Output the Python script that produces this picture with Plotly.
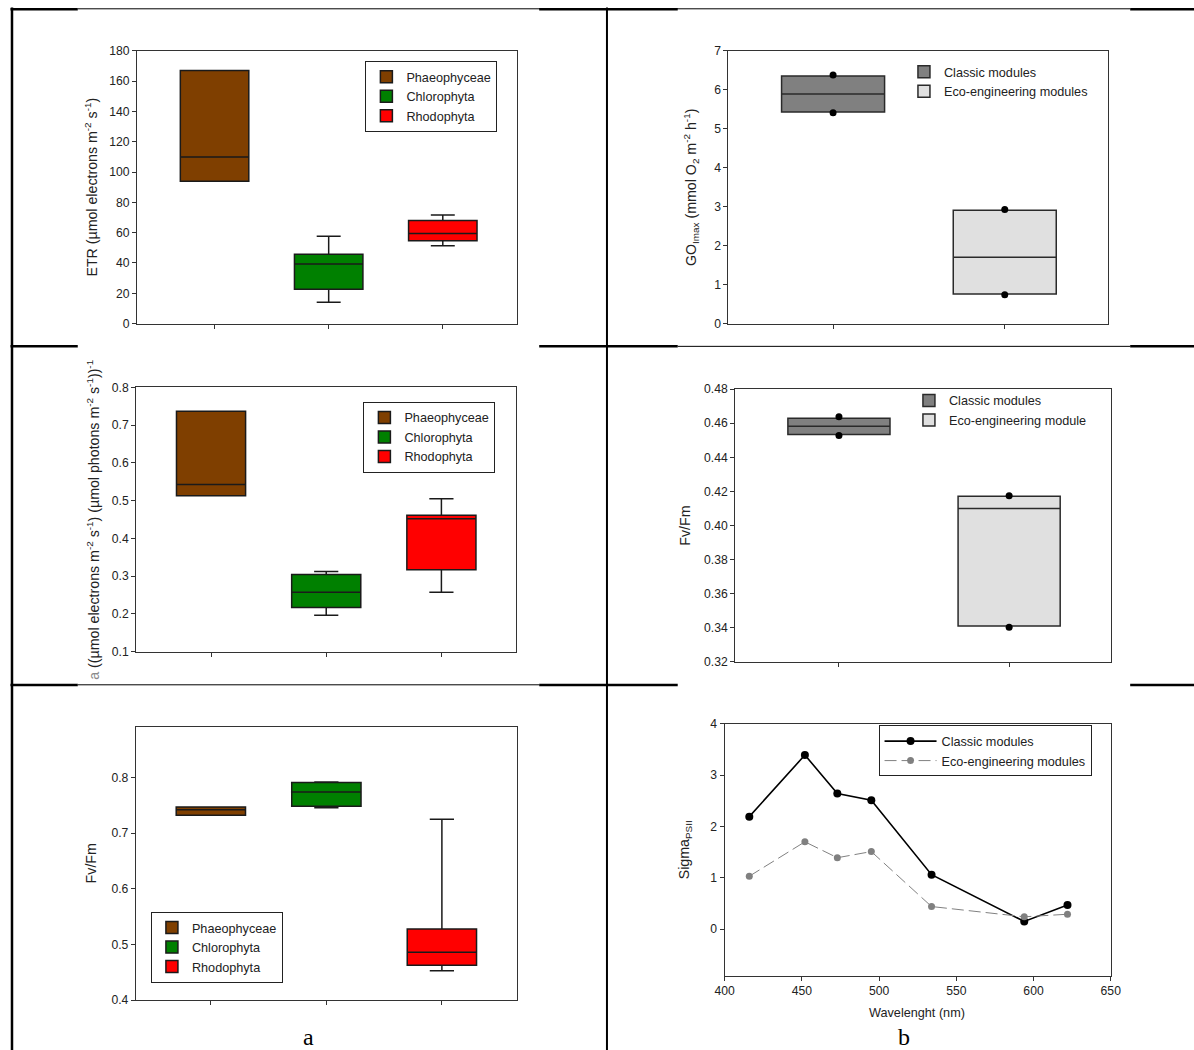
import plotly.graph_objects as go

W, H = 1194, 1050
# the returned picture shows the page inside an 8px frame, scaled by (W-16)/W;
# positions below are measured on the reference and mapped back to page pixels
PAD = 8
SX = (W - 2 * PAD) / W
SY = (H - 2 * PAD) / H
FS = 1 / SX

# ---------------- data ----------------
algae = ["Phaeophyceae", "Chlorophyta", "Rhodophyta"]
algae_colors = ["#7f3f00", "#008000", "#ff0000"]

etr_q1 = [94, 22.7, 54.6]
etr_med = [110, 39.4, 59.5]
etr_q3 = [167, 45.8, 68.0]
etr_lo = [94, 14.1, 51.3]
etr_hi = [167, 57.7, 71.6]

alpha_q1 = [0.513, 0.217, 0.317]
alpha_med = [0.543, 0.257, 0.452]
alpha_q3 = [0.737, 0.304, 0.461]
alpha_lo = [0.513, 0.196, 0.257]
alpha_hi = [0.737, 0.312, 0.505]

fvfm_alg_q1 = [0.732, 0.7485, 0.463]
fvfm_alg_med = [0.742, 0.774, 0.486]
fvfm_alg_q3 = [0.747, 0.791, 0.528]
fvfm_alg_lo = [0.732, 0.7455, 0.453]
fvfm_alg_hi = [0.747, 0.792, 0.725]

modules_go = ["Classic modules", "Eco-engineering modules"]
modules_fv = ["Classic modules", "Eco-engineering module"]
module_colors = ["#808080", "#e0e0e0"]

go_q1 = [5.43, 0.76]
go_med = [5.89, 1.70]
go_q3 = [6.35, 2.91]
go_p_low = [5.41, 0.74]
go_p_high = [6.38, 2.93]

fvm_q1 = [0.4533, 0.3411]
fvm_med = [0.4582, 0.4099]
fvm_q3 = [0.4629, 0.4171]
fvm_p_low = [0.4527, 0.3404]
fvm_p_high = [0.4637, 0.4175]

wavelength = [416, 452, 473, 495, 534, 594, 622]
sigma_classic = [2.19, 3.39, 2.64, 2.51, 1.06, 0.15, 0.47]
sigma_eco = [1.03, 1.70, 1.39, 1.51, 0.44, 0.24, 0.29]

# ---------------- helpers (reference pixel -> paper) ----------------
def px(x):
    return ((x - PAD) / SX) / W

def py(y):
    return 1 - ((y - PAD) / SY) / H

FONT = "Liberation Sans, Arial, sans-serif"
TXT = "#222"
AX = "#333"

fig = go.Figure()

def add_boxes(axn, names, colors, q1, med, q3, lo, hi, legend, line_color="#1a1a1a"):
    s = "" if axn == 1 else str(axn)
    for i, n in enumerate(names):
        fig.add_trace(go.Box(
            x=[i + 1], q1=[q1[i]], median=[med[i]], q3=[q3[i]],
            lowerfence=[lo[i]], upperfence=[hi[i]],
            name=n, fillcolor=colors[i],
            line=dict(color=line_color, width=1.5),
            width=0.6, whiskerwidth=0.35, boxpoints=False,
            xaxis="x" + s, yaxis="y" + s,
            legend=legend, showlegend=True, hoverinfo="skip",
        ))

add_boxes(1, algae, algae_colors, etr_q1, etr_med, etr_q3, etr_lo, etr_hi, "legend")
add_boxes(3, algae, algae_colors, alpha_q1, alpha_med, alpha_q3, alpha_lo, alpha_hi, "legend3")
add_boxes(5, algae, algae_colors, fvfm_alg_q1, fvfm_alg_med, fvfm_alg_q3, fvfm_alg_lo, fvfm_alg_hi, "legend5")

add_boxes(2, modules_go, module_colors, go_q1, go_med, go_q3, go_q1, go_q3, "legend2", line_color="#2a2a2a")
fig.add_trace(go.Scatter(x=[1, 2, 1, 2], y=go_p_high + go_p_low, mode="markers",
                         marker=dict(color="black", size=7), xaxis="x2", yaxis="y2",
                         showlegend=False, hoverinfo="skip"))

add_boxes(4, modules_fv, module_colors, fvm_q1, fvm_med, fvm_q3, fvm_q1, fvm_q3, "legend4", line_color="#2a2a2a")
fig.add_trace(go.Scatter(x=[1, 2, 1, 2], y=fvm_p_high + fvm_p_low, mode="markers",
                         marker=dict(color="black", size=7), xaxis="x4", yaxis="y4",
                         showlegend=False, hoverinfo="skip"))

fig.add_trace(go.Scatter(x=wavelength, y=sigma_classic, mode="lines+markers", name="Classic modules",
                         line=dict(color="black", width=1.6), marker=dict(color="black", size=8),
                         xaxis="x6", yaxis="y6", legend="legend6", hoverinfo="skip"))
fig.add_trace(go.Scatter(x=wavelength, y=sigma_eco, mode="lines+markers", name="Eco-engineering modules",
                         line=dict(color="#808080", width=1, dash="12px,5px"),
                         marker=dict(color="#808080", size=7),
                         xaxis="x6", yaxis="y6", legend="legend6", hoverinfo="skip"))

# ---------------- axes ----------------
panels = {
    1: dict(x=(135.4, 516.7), y=(51.7, 324.0)),
    2: dict(x=(728.8, 1109.5), y=(51.7, 324.0)),
    3: dict(x=(134.6, 516.0), y=(387.7, 651.3)),
    4: dict(x=(735.6, 1113.0), y=(389.3, 661.7)),
    5: dict(x=(134.2, 516.7), y=(727.0, 999.3)),
    6: dict(x=(725.0, 1112.5), y=(723.3, 975.0)),
}

common = dict(showgrid=False, zeroline=False, showline=True, linecolor=AX, linewidth=1,
              mirror=True, ticks="outside", ticklen=4, tickcolor=AX,
              tickfont=dict(family=FONT, size=12 * FS, color=TXT))

xr = {1: [0.32, 3.65], 2: [0.39, 2.6], 3: [0.35, 3.65], 4: [0.39, 2.6], 5: [0.35, 3.65], 6: [400, 650]}
yr = {1: [0, 180], 2: [0, 7], 3: [0.1, 0.8], 4: [0.32, 0.48], 5: [0.4, 0.89], 6: [-0.91, 4]}
ytv = {1: list(range(0, 181, 20)), 2: list(range(0, 8)),
       3: [0.1, 0.2, 0.3, 0.4, 0.5, 0.6, 0.7, 0.8],
       4: [0.32, 0.34, 0.36, 0.38, 0.40, 0.42, 0.44, 0.46, 0.48],
       5: [0.4, 0.5, 0.6, 0.7, 0.8], 6: [0, 1, 2, 3, 4]}
yfmt = {1: "d", 2: "d", 3: ".1f", 4: ".2f", 5: ".1f", 6: "d"}

layout_axes = {}
for n, p in panels.items():
    s = "" if n == 1 else str(n)
    xd = [px(p["x"][0]), px(p["x"][1])]
    yd = [py(p["y"][1]), py(p["y"][0])]
    xa = dict(common, domain=xd, range=xr[n], anchor="y" + s)
    if n == 6:
        xa.update(tickvals=[400, 450, 500, 550, 600, 650], tickformat="d")
    elif n in (2, 4):
        xa.update(tickvals=[1, 2], showticklabels=False)
    else:
        xa.update(tickvals=[1, 2, 3], showticklabels=False)
    ya = dict(common, domain=yd, range=yr[n], anchor="x" + s, tickvals=ytv[n], tickformat=yfmt[n])
    layout_axes["xaxis" + s] = xa
    layout_axes["yaxis" + s] = ya

fig.update_layout(**layout_axes)

# ---------------- legends ----------------
def leg(x, y, border=True, yanchor="top", itemwidth=30):
    return dict(x=px(x), y=py(y), xanchor="left", yanchor=yanchor,
                bgcolor="white" if border else "rgba(0,0,0,0)",
                bordercolor="#222", borderwidth=1 if border else 0,
                font=dict(family=FONT, size=12.5 * FS, color=TXT), tracegroupgap=0,
                itemwidth=itemwidth, itemclick=False, itemdoubleclick=False)

fig.update_layout(
    legend=leg(364.6, 62),
    legend2=leg(905, 58, border=False),
    legend3=leg(362.6, 402),
    legend4=leg(910, 386, border=False),
    legend5=leg(149.4, 982, yanchor="bottom"),
    legend6=leg(879.5, 725, itemwidth=52),
)

# ---------------- titles ----------------
def ytitle(text, x, y, size=14):
    fig.add_annotation(text=text, x=px(x), y=py(y), xref="paper", yref="paper",
                       textangle=-90, showarrow=False, xanchor="center", yanchor="middle",
                       font=dict(family=FONT, size=size * FS, color=TXT))

ytitle("ETR (µmol electrons m<sup>-2</sup> s<sup>-1</sup>)", 89.5, 188)
ytitle("GO<sub>Imax</sub> (mmol O<sub>2</sub> m<sup>-2</sup> h<sup>-1</sup>)", 692, 188)
ytitle('<span style="color:#8a8a8a">a</span> ((µmol electrons m<sup>-2</sup> s<sup>-1</sup>) '
       '(µmol photons m<sup>-2</sup> s<sup>-1</sup>))<sup>-1</sup>', 91, 520)
ytitle("Fv/Fm", 685, 526)
ytitle("Fv/Fm", 89, 863)
ytitle("Sigma<sub>PSII</sub>", 685, 849)
fig.add_annotation(text="Wavelenght (nm)", x=px(918), y=py(1012), xref="paper", yref="paper",
                   showarrow=False, xanchor="center", yanchor="middle",
                   font=dict(family=FONT, size=12.5 * FS, color=TXT))
for lab, x in (("a", 308), ("b", 905)):
    fig.add_annotation(text=lab, x=px(x), y=py(1036), xref="paper", yref="paper",
                       showarrow=False, xanchor="center", yanchor="middle",
                       font=dict(family="Liberation Serif, Times New Roman, serif", size=24, color="black"))

# ---------------- table lines ----------------
def hline(x0, x1, y, w):
    fig.add_shape(type="line", xref="paper", yref="paper", x0=px(x0), x1=px(x1), y0=py(y), y1=py(y),
                  line=dict(color="black", width=w))

def vline(x, y0, y1, w):
    fig.add_shape(type="line", xref="paper", yref="paper", x0=px(x), x1=px(x), y0=py(y0), y1=py(y1),
                  line=dict(color="black", width=w))

hline(76, 1132, 9.8, 1)
for a, b in ((8.5, 76), (539, 678), (1132, 1200)):
    hline(a, b, 10.3, 2.5)
hline(678, 1132, 346.7, 1)
for a, b in ((8.5, 76), (539, 678), (1132, 1200)):
    hline(a, b, 346.7, 2.5)
hline(76, 539, 684.5, 1)
for a, b in ((8.5, 76), (539, 678), (1132, 1200)):
    hline(a, b, 684.7, 2.5)
vline(10, 8.5, 1060, 2.5)
vline(607, 8.5, 1060, 2)

fig.update_layout(width=W, height=H, margin=dict(l=0, r=0, t=0, b=0),
                  paper_bgcolor="white", plot_bgcolor="white", showlegend=True,
                  font=dict(family=FONT, color=TXT))

fig.write_html("out.html", config={"displayModeBar": False},
               post_script="document.body.style.margin='0';document.body.style.overflow='hidden';")
